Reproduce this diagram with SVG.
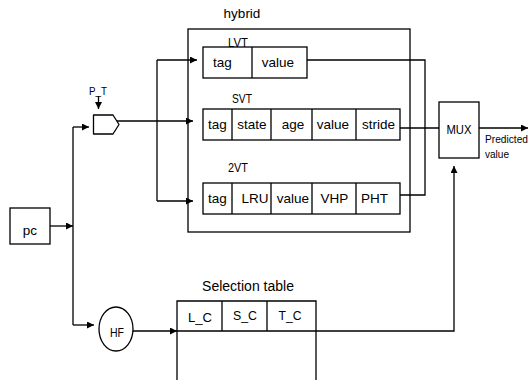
<svg xmlns="http://www.w3.org/2000/svg" width="530" height="380" viewBox="0 0 530 380">
<defs>
<marker id="arr" markerUnits="userSpaceOnUse" markerWidth="8" markerHeight="8" refX="7" refY="3.5" orient="auto">
<path d="M0,0 L7,3.5 L0,7 z" fill="#000"/>
</marker>
<style>
.box{fill:#fff;stroke:#000;stroke-width:1.3}
.ln{fill:none;stroke:#000;stroke-width:1.3}
.w{fill:none;stroke:#000;stroke-width:1.3;marker-end:url(#arr)}
text{font-family:"Liberation Sans",Arial,sans-serif;fill:#000}
.t{font-size:13.5px;text-anchor:middle}
.lb{font-size:13.5px;text-anchor:middle}
.s{font-size:11px}
</style>
</defs>
<rect width="530" height="380" fill="#fff"/>

<g id="hybrid">
<rect class="box" x="188" y="29" width="222" height="203"/>
<text class="t" x="242" y="18">hybrid</text>
</g>

<g id="LVT">
<rect class="box" x="203" y="47" width="104" height="31"/>
<line class="ln" x1="252" y1="47" x2="252" y2="78"/>
<text class="lb" x="238" y="47" textLength="20" lengthAdjust="spacingAndGlyphs">LVT</text>
<text class="t" x="222.5" y="67">tag</text>
<text class="t" x="278" y="67">value</text>
</g>

<g id="SVT">
<rect class="box" x="203" y="109" width="197" height="31"/>
<path class="ln" d="M232,109V140M271,109V140M312,109V140M356,109V140"/>
<text class="lb" x="242" y="103" textLength="20" lengthAdjust="spacingAndGlyphs">SVT</text>
<text class="t" x="217.5" y="129">tag</text>
<text class="t" x="252" y="129">state</text>
<text class="t" x="293" y="129">age</text>
<text class="t" x="333" y="129">value</text>
<text class="t" x="378.5" y="129">stride</text>
</g>

<g id="2VT">
<rect class="box" x="203" y="183" width="197" height="31"/>
<path class="ln" d="M232,183V214M271,183V214M312,183V214M356,183V214"/>
<text class="lb" x="238" y="172" textLength="20" lengthAdjust="spacingAndGlyphs">2VT</text>
<text class="t" x="217.5" y="203">tag</text>
<text class="t" x="255" y="203">LRU</text>
<text class="t" x="293" y="203">value</text>
<text class="t" x="334.5" y="203">VHP</text>
<text class="t" x="374.5" y="203">PHT</text>
</g>

<g id="MUX">
<rect class="box" x="439" y="102" width="40" height="56"/>
<text class="lb" x="459" y="134" textLength="25" lengthAdjust="spacingAndGlyphs">MUX</text>
</g>

<g id="predicted">
<text class="s" x="485" y="143" textLength="43" lengthAdjust="spacingAndGlyphs">Predicted</text>
<text class="s" x="485" y="158" textLength="24" lengthAdjust="spacingAndGlyphs">value</text>
</g>

<g id="pc">
<rect class="box" x="10" y="208" width="40" height="36"/>
<text class="t" x="30" y="235">pc</text>
</g>

<g id="PT">
<path class="box" d="M93.5,115H113L119,124.5L113,134H93.5Z" stroke-linejoin="round"/>
<text class="s" x="98" y="95" text-anchor="middle" textLength="18" lengthAdjust="spacingAndGlyphs">P_T</text>
</g>

<g id="HF">
<ellipse class="box" cx="116" cy="329" rx="17" ry="22"/>
<text class="lb" x="117" y="337" style="font-size:13px" textLength="14" lengthAdjust="spacingAndGlyphs">HF</text>
</g>

<g id="selection">
<text class="t" x="248" y="291" style="font-size:14px">Selection table</text>
<path class="ln" d="M177,380V301H316V380M177,331H316M222,301V331M267,301V331"/>
<text class="t" x="200" y="322" textLength="24" lengthAdjust="spacingAndGlyphs">L_C</text>
<text class="t" x="245" y="320" textLength="24" lengthAdjust="spacingAndGlyphs">S_C</text>
<text class="t" x="290" y="320" textLength="23" lengthAdjust="spacingAndGlyphs">T_C</text>
</g>

<g id="connectors">
<line class="w" x1="50" y1="226" x2="73" y2="226"/>
<line class="ln" x1="73" y1="127" x2="73" y2="325"/>
<line class="w" x1="73" y1="127" x2="89" y2="127"/>
<line class="w" x1="73" y1="325" x2="94" y2="325"/>
<line class="w" x1="98.5" y1="96" x2="98.5" y2="109"/>
<line class="w" x1="117" y1="121" x2="193" y2="121"/>
<line class="ln" x1="157" y1="60" x2="157" y2="201"/>
<line class="w" x1="157" y1="60" x2="197" y2="60"/>
<line class="w" x1="157" y1="201" x2="193" y2="201"/>
<polyline class="ln" points="307,60 425,60 425,195 400,195"/>
<line class="ln" x1="400" y1="128" x2="439" y2="128"/>
<line class="w" x1="479" y1="128" x2="528" y2="128"/>
<line class="w" x1="133" y1="331" x2="177" y2="331"/>
<polyline class="w" points="316,331 454,331 454,166"/>
</g>
</svg>
